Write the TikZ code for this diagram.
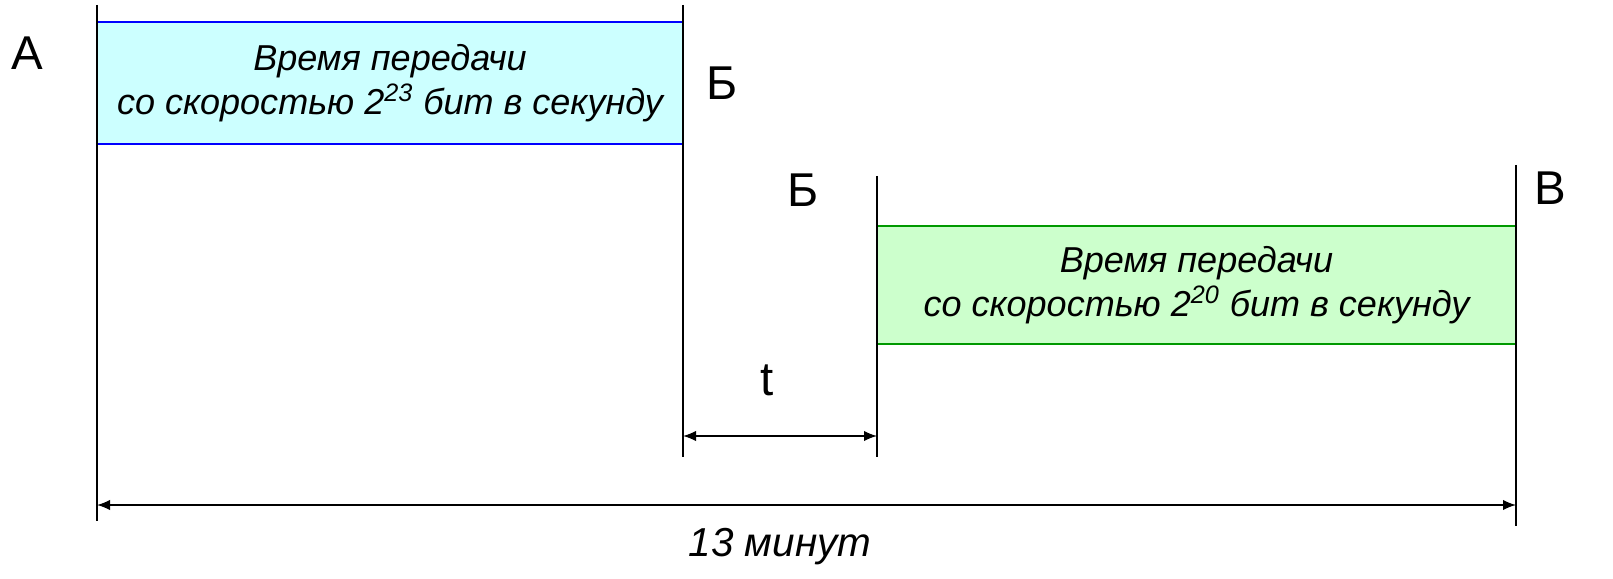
\documentclass[tikz,border=0pt]{standalone}
\usepackage{fontspec}
\setmainfont{Liberation Sans}
\usetikzlibrary{arrows.meta}

\definecolor{fastfill}{HTML}{CCFFFF}
\definecolor{slowfill}{HTML}{CCFFCC}
\definecolor{slowline}{HTML}{009900}

\begin{document}
\begin{tikzpicture}[
        mark line/.style = {draw=black, line width=0.9pt},
        fastbox/.style = {draw=blue, line width=0.9pt, fill=fastfill, align=center, inner sep=0pt,
                          font = {\fontsize{20.5}{25}\selectfont\itshape}},
        slowbox/.style = {draw=slowline, line width=0.9pt, fill=slowfill, align=center, inner sep=0pt,
                          font = {\fontsize{20.5}{25}\selectfont\itshape}},
        point/.style = {font = {\fontsize{27}{27}\selectfont}, black},
        span/.style = {line width=0.9pt, {Latex[length=2.6mm,width=2.1mm]}-{Latex[length=2.6mm,width=2.1mm]}}
    ]
        \useasboundingbox (0, 0) rectangle (32.26, -11.58);

        % vertical marks
        \coordinate (aTop) at (1.94, -0.1);    \coordinate (aBot) at (1.94, -10.42);
        \coordinate (b1Top) at (13.66, -0.1);  \coordinate (b1Bot) at (13.66, -9.14);
        \coordinate (b2Top) at (17.54, -3.52); \coordinate (b2Bot) at (17.54, -9.14);
        \coordinate (vTop) at (30.32, -3.3);   \coordinate (vBot) at (30.32, -10.52);

        % boxes
        \node[fastbox, minimum width=11.72cm, minimum height=2.44cm] (fast) at (7.80, -1.66)
            {Время передачи\\со скоростью 2\textsuperscript{23} бит в секунду};
        \node[slowbox, minimum width=12.78cm, minimum height=2.36cm] (slow) at (23.93, -5.70)
            {Время передачи\\со скоростью 2\textsuperscript{20} бит в секунду};

        \draw[mark line] (aTop) -- (aBot);
        \draw[mark line] (b1Top) -- (b1Bot);
        \draw[mark line] (b2Top) -- (b2Bot);
        \draw[mark line] (vTop) -- (vBot);

        % point names
        \node[point] (pA) at (0.54, -1.06) {А};
        \node[point] (pB1) at (14.44, -1.66) {Б};
        \node[point] (pB2) at (16.06, -3.80) {Б};
        \node[point] (pV) at (31.00, -3.76) {В};

        % spans
        \coordinate (tL) at (13.66, -8.72); \coordinate (tR) at (17.54, -8.72);
        \draw[span] (tL) -- (tR);
        \node[point] (tLab) at (15.34, -7.60) {t};

        \coordinate (allL) at (1.94, -10.10); \coordinate (allR) at (30.32, -10.10);
        \draw[span] (allL) -- (allR);
        \node[font = {\fontsize{23}{23}\selectfont\itshape}, black] (total) at (15.60, -10.94) {13 минут};
    \end{tikzpicture}
\end{document}
